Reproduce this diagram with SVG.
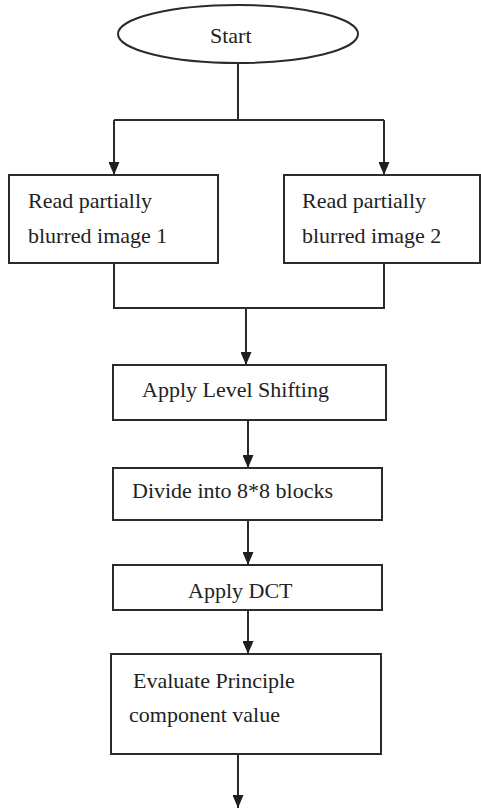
<svg xmlns="http://www.w3.org/2000/svg" width="481" height="808" viewBox="0 0 481 808">
<style>
.box{fill:#ffffff;stroke:#2b2b2b;stroke-width:2}
.ln{fill:none;stroke:#2b2b2b;stroke-width:2}
.t{font-family:"Liberation Serif","Times New Roman",serif;font-size:22px;fill:#222}
</style>
<defs>
<marker id="a" markerUnits="userSpaceOnUse" markerWidth="13" markerHeight="11" viewBox="0 0 13 11" refX="13" refY="5.5" orient="auto">
<path d="M0,0 L13,5.5 L0,11 Z" fill="#1e1e1e"/>
</marker>
</defs>
<rect width="481" height="808" fill="#ffffff"/>
<g id="connectors">
<path class="ln" d="M238,63 V120"/>
<path class="ln" d="M114,120 H384"/>
<path class="ln" d="M114,120 V175" marker-end="url(#a)"/>
<path class="ln" d="M384,120 V175" marker-end="url(#a)"/>
<path class="ln" d="M114,263 V308 H384 V263"/>
<path class="ln" d="M246,308 V365" marker-end="url(#a)"/>
<path class="ln" d="M248,420 V468" marker-end="url(#a)"/>
<path class="ln" d="M248,520 V565" marker-end="url(#a)"/>
<path class="ln" d="M248,610 V654" marker-end="url(#a)"/>
<path class="ln" d="M238,754 V808" marker-end="url(#a)"/>
</g>
<g id="start">
<ellipse class="box" cx="238" cy="34" rx="120" ry="29"/>
<text class="t" x="210" y="43">Start</text>
</g>
<g id="read1">
<rect class="box" x="9" y="175" width="209" height="88"/>
<text class="t" x="28" y="208">Read partially</text>
<text class="t" x="28" y="243">blurred image 1</text>
</g>
<g id="read2">
<rect class="box" x="284" y="175" width="196" height="88"/>
<text class="t" x="302" y="208">Read partially</text>
<text class="t" x="302" y="243">blurred image 2</text>
</g>
<g id="levelshift">
<rect class="box" x="113" y="365" width="273" height="55"/>
<text class="t" x="142" y="397">Apply Level Shifting</text>
</g>
<g id="divide">
<rect class="box" x="113" y="468" width="269" height="52"/>
<text class="t" x="132" y="498">Divide into 8*8 blocks</text>
</g>
<g id="dct">
<rect class="box" x="113" y="565" width="269" height="45"/>
<text class="t" x="188" y="598">Apply DCT</text>
</g>
<g id="evaluate">
<rect class="box" x="111" y="654" width="270" height="100"/>
<text class="t" x="133" y="688">Evaluate Principle</text>
<text class="t" x="129" y="722">component value</text>
</g>
</svg>
